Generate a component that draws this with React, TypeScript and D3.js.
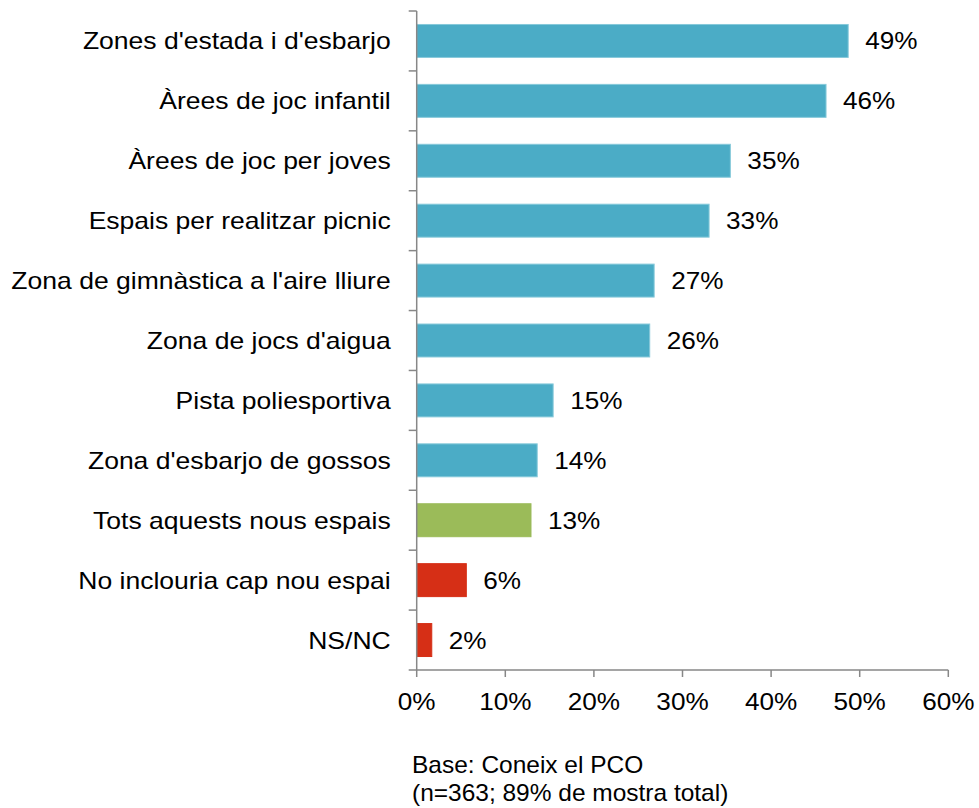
import React from "react";
import * as d3 from "d3";

// categories, top to bottom
const categories: string[] = [
  "Zones d'estada i d'esbarjo",
  "Àrees de joc infantil",
  "Àrees de joc per joves",
  "Espais per realitzar picnic",
  "Zona de gimnàstica a l'aire lliure",
  "Zona de jocs d'aigua",
  "Pista poliesportiva",
  "Zona d'esbarjo de gossos",
  "Tots aquests nous espais",
  "No inclouria cap nou espai",
  "NS/NC",
];

// share of respondents (%)
const values: number[] = [48.7, 46.2, 35.4, 33.0, 26.8, 26.3, 15.4, 13.6, 12.9, 5.6, 1.7];

// which colour group each bar belongs to
const groups: string[] = [
  "space", "space", "space", "space", "space", "space", "space", "space",
  "all", "none", "none",
];

const xTicks: number[] = [0, 10, 20, 30, 40, 50, 60];

const footnote: string[] = ["Base: Coneix el PCO", "(n=363; 89% de mostra total)"];

const width = 979;
const height = 808;
const axisX = 416.7;
const top = 11;
const bottom = 670;
const right = 948.3;
const fontFamily = "'Liberation Sans', Arial, sans-serif";

const fill = d3.scaleOrdinal<string, string>()
  .domain(["space", "all", "none"])
  .range(["#4BACC6", "#9BBB59", "#D62F16"]);

const edge = d3.scaleOrdinal<string, string>()
  .domain(["space", "all", "none"])
  .range(["#86C9DA", "#9BBB59", "#D62F16"]);

function Label(props: { x: number; y: number; anchor: string; sx: number; children: string }) {
  return (
    <g transform={`translate(${props.x},${props.y}) scale(${props.sx},1)`}>
      <text textAnchor={props.anchor} fontSize={24} fontFamily={fontFamily} fill="#000">
        {props.children}
      </text>
    </g>
  );
}

export default function App() {
  const x = d3.scaleLinear().domain([0, 60]).range([axisX, right]);
  const y = d3.scaleBand<string>()
    .domain(categories)
    .range([top, bottom])
    .paddingInner(0.45)
    .paddingOuter(0.225);

  const step = y.step();
  const boundaries = d3.range(categories.length + 1).map((i) => top + i * step);
  const axisColor = "#878787";

  return (
    <svg
      width={width}
      height={height}
      style={{ position: "absolute", left: 0, top: 0, background: "#fff" }}
    >
      {categories.map((c, i) => {
        const yc = (y(c) ?? 0) + y.bandwidth() / 2;
        return (
          <g key={c}>
            <rect
              x={x(0)}
              y={y(c)}
              width={x(values[i]) - x(0)}
              height={y.bandwidth()}
              fill={fill(groups[i])}
              stroke={edge(groups[i])}
              strokeWidth={1}
            />
            <Label x={axisX - 26} y={yc + 8.5} anchor="end" sx={1.105}>{c}</Label>
            <Label x={x(values[i]) + 17} y={yc + 8.5} anchor="start" sx={1.09}>
              {`${Math.round(values[i])}%`}
            </Label>
          </g>
        );
      })}

      {/* y axis */}
      <line x1={axisX} x2={axisX} y1={top} y2={bottom} stroke={axisColor} strokeWidth={1.5} />
      {boundaries.map((b, i) => (
        <line key={i} x1={axisX - 8} x2={axisX} y1={b} y2={b} stroke={axisColor} strokeWidth={1.5} />
      ))}

      {/* x axis */}
      <line x1={axisX} x2={right} y1={bottom} y2={bottom} stroke={axisColor} strokeWidth={1.5} />
      {xTicks.map((t) => (
        <g key={t}>
          <line x1={x(t)} x2={x(t)} y1={bottom} y2={bottom + 7} stroke={axisColor} strokeWidth={1.5} />
          <Label x={x(t)} y={710} anchor="middle" sx={1.09}>{`${t}%`}</Label>
        </g>
      ))}

      {footnote.map((line, i) => (
        <Label key={i} x={412} y={772.5 + i * 28.5} anchor="start" sx={1.02}>{line}</Label>
      ))}
    </svg>
  );
}
